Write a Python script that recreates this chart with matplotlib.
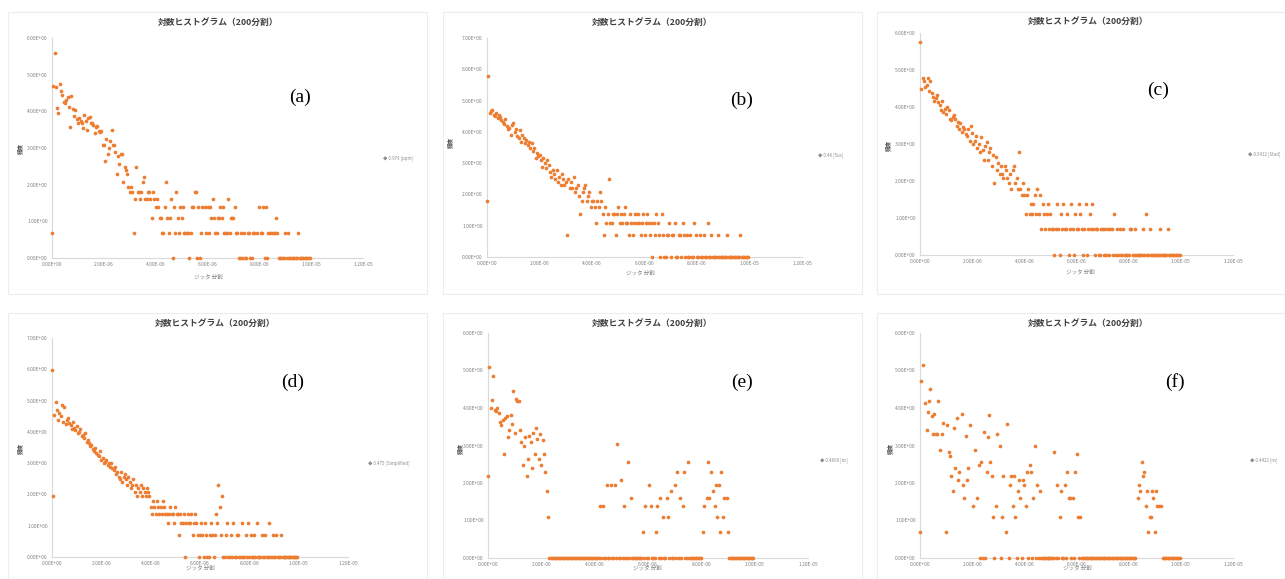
import numpy as np
import matplotlib.pyplot as plt
from matplotlib.patches import Rectangle

plt.rcParams['font.family'] = ['Noto Sans CJK JP', 'DejaVu Sans']

# textos
title = "対数ヒストグラム（200分割）"
xlabel = "ジッタ 分割"
ylabel = "頻度"
panel_names = ["(a)", "(b)", "(c)", "(d)", "(e)", "(f)"]
legend_names = ["0.979 [ppm]", "0.46 [5us]", "0.5412 [Stad]",
                "0.475 [Simplified]", "0.4669 [ns]", "0.4422 [ns]"]
xtick_values = [0, 2e-6, 4e-6, 6e-6, 8e-6, 1e-5, 1.2e-5]
xtick_labels = ["0.00E+00", "2.00E-06", "4.00E-06", "6.00E-06",
                "8.00E-06", "1.00E-05", "1.20E-05"]
ymax = [6, 7, 6, 7, 6, 6]
bin_width = 5e-8

# contagens por classe (200 classes), 0 = classe vazia
counts_a = [
    2, 110, 270, 105, 60, 52, 115, 95, 85, 70, 68, 75, 80, 62, 36, 82, 58, 48, 57, 44,
    40, 45, 42, 40, 35, 50, 42, 33, 45, 47, 40, 40, 38, 30, 36, 37, 32, 31, 32, 22,
    22, 14, 26, 17, 20, 24, 33, 22, 22, 18, 10, 16, 13, 17, 17, 8, 12, 11, 10, 7,
    6, 7, 6, 2, 5, 12, 6, 6, 5, 6, 8, 9, 5, 5, 6, 6, 5, 3, 6, 5,
    4, 5, 4, 3, 3, 2, 2, 4, 8, 3, 2, 3, 5, 1, 4, 2, 6, 3, 2, 4,
    3, 4, 2, 2, 2, 2, 1, 2, 4, 4, 6, 6, 1, 4, 1, 2, 4, 0, 4, 2,
    4, 2, 4, 3, 5, 3, 2, 2, 3, 3, 4, 3, 4, 2, 2, 2, 5, 2, 3, 3,
    3, 4, 2, 2, 1, 1, 2, 1, 2, 1, 1, 2, 2, 1, 1, 2, 2, 0, 2, 0,
    4, 2, 2, 4, 1, 4, 1, 2, 2, 0, 2, 2, 2, 3, 2, 1, 1, 1, 1, 1,
    2, 1, 2, 1, 1, 1, 1, 1, 1, 1, 2, 1, 1, 1, 1, 1, 1, 1, 1, 1,
]
counts_b = [
    6, 330, 100, 105, 110, 95, 92, 100, 85, 95, 88, 80, 75, 70, 82, 66, 60, 62, 50, 68,
    72, 55, 60, 48, 45, 58, 40, 50, 45, 38, 42, 36, 40, 33, 38, 30, 33, 24, 28, 25,
    26, 22, 18, 24, 20, 17, 22, 19, 15, 13, 16, 14, 12, 16, 11, 13, 10, 14, 12, 10,
    11, 2, 12, 9, 11, 9, 13, 8, 9, 10, 7, 4, 6, 8, 9, 10, 6, 7, 8, 5,
    6, 6, 5, 3, 6, 5, 8, 6, 4, 2, 5, 3, 4, 12, 3, 3, 4, 4, 2, 4,
    5, 3, 4, 3, 4, 5, 3, 3, 2, 4, 3, 2, 3, 4, 3, 4, 3, 2, 3, 4,
    2, 3, 4, 3, 2, 3, 1, 3, 2, 4, 3, 2, 1, 4, 2, 1, 1, 2, 2, 3,
    1, 2, 2, 3, 1, 1, 2, 2, 1, 3, 2, 1, 2, 1, 1, 2, 1, 1, 3, 2,
    1, 1, 2, 1, 1, 2, 1, 1, 3, 1, 1, 2, 1, 1, 1, 1, 2, 1, 1, 1,
    1, 1, 1, 2, 1, 1, 1, 1, 1, 1, 1, 1, 1, 2, 1, 1, 1, 1, 1, 1,
]
counts_c = [
    315, 90, 120, 110, 95, 100, 120, 85, 110, 80, 72, 65, 70, 75, 62, 58, 50, 65, 48, 52,
    45, 55, 50, 40, 38, 42, 44, 40, 33, 36, 30, 35, 28, 32, 30, 26, 25, 30, 22, 33,
    27, 20, 22, 25, 18, 20, 16, 24, 17, 13, 19, 21, 13, 16, 18, 11, 15, 7, 14, 10,
    12, 9, 11, 9, 8, 11, 10, 8, 7, 9, 6, 10, 11, 7, 8, 6, 16, 6, 5, 7,
    5, 3, 5, 6, 3, 4, 3, 4, 5, 3, 6, 3, 5, 2, 4, 3, 2, 3, 4, 2,
    3, 2, 2, 1, 2, 4, 2, 1, 3, 2, 4, 2, 2, 3, 1, 2, 4, 2, 1, 3,
    2, 2, 4, 3, 2, 1, 2, 4, 1, 2, 3, 2, 4, 2, 1, 2, 2, 1, 1, 2,
    2, 1, 2, 1, 2, 1, 2, 2, 1, 3, 1, 2, 1, 2, 1, 1, 2, 1, 1, 1,
    1, 2, 2, 1, 1, 2, 1, 1, 1, 1, 1, 2, 1, 3, 1, 1, 2, 1, 1, 1,
    1, 1, 1, 1, 2, 1, 1, 1, 1, 1, 2, 1, 1, 1, 1, 1, 1, 1, 1, 1,
]
counts_d = [
    400, 7, 95, 140, 110, 80, 100, 90, 130, 75, 120, 70, 80, 85, 72, 68, 60, 75, 62, 58,
    65, 52, 55, 60, 48, 50, 45, 52, 40, 42, 38, 35, 36, 32, 30, 33, 28, 26, 25, 30,
    22, 24, 20, 21, 22, 19, 20, 18, 20, 17, 16, 18, 14, 15, 13, 12, 15, 11, 13, 14,
    12, 10, 13, 11, 9, 10, 12, 8, 10, 7, 9, 8, 10, 7, 9, 8, 7, 9, 8, 7,
    5, 4, 6, 5, 4, 6, 5, 4, 5, 4, 6, 5, 4, 4, 3, 4, 5, 4, 4, 3,
    5, 4, 4, 2, 4, 3, 3, 4, 1, 3, 4, 3, 3, 4, 2, 3, 4, 3, 2, 1,
    2, 3, 2, 1, 3, 2, 1, 1, 2, 3, 2, 1, 2, 4, 3, 10, 5, 2, 7, 1,
    1, 2, 3, 1, 1, 2, 1, 3, 1, 1, 2, 2, 1, 1, 3, 1, 1, 2, 1, 3,
    1, 2, 1, 1, 2, 1, 3, 1, 1, 1, 2, 1, 1, 2, 1, 1, 3, 1, 1, 2,
    1, 1, 2, 1, 1, 1, 2, 1, 1, 1, 1, 1, 1, 1, 1, 1, 1, 1, 1, 1,
]
counts_e = [
    9, 165, 55, 67, 128, 52, 50, 55, 48, 38, 35, 40, 16, 42, 44, 25, 30, 45, 36, 85,
    28, 70, 65, 66, 30, 22, 12, 20, 25, 9, 14, 26, 22, 11, 28, 16, 32, 24, 14, 27,
    12, 23, 16, 10, 6, 3, 1, 1, 1, 1, 1, 1, 1, 1, 1, 1, 1, 1, 1, 1,
    1, 1, 1, 1, 1, 1, 1, 1, 1, 1, 1, 1, 1, 1, 1, 1, 1, 1, 1, 1,
    1, 1, 1, 1, 4, 1, 4, 1, 1, 7, 1, 1, 7, 1, 1, 7, 1, 21, 1, 1,
    8, 1, 4, 1, 1, 13, 1, 5, 1, 1, 1, 1, 1, 1, 1, 1, 2, 1, 4, 1,
    1, 7, 4, 1, 1, 1, 2, 4, 1, 5, 1, 3, 1, 1, 5, 3, 1, 6, 1, 1,
    7, 1, 10, 1, 5, 1, 4, 10, 1, 1, 13, 1, 1, 1, 1, 1, 1, 1, 1, 1,
    1, 2, 4, 0, 5, 13, 5, 10, 0, 6, 4, 7, 3, 7, 2, 10, 3, 5, 0, 5,
    2, 1, 1, 1, 1, 1, 1, 1, 1, 1, 1, 1, 1, 1, 1, 1, 1, 1, 1, 1,
]
counts_f = [
    2, 113, 172, 0, 62, 30, 49, 65, 90, 44, 27, 46, 27, 27, 65, 18, 0, 27, 37, 0,
    2, 35, 17, 15, 9, 6, 32, 11, 42, 8, 10, 0, 47, 7, 5, 26, 8, 11, 35, 0,
    0, 4, 18, 0, 5, 12, 1, 13, 1, 29, 1, 10, 25, 45, 13, 9, 3, 1, 4, 27,
    0, 20, 1, 3, 9, 0, 2, 36, 1, 7, 9, 4, 9, 3, 1, 6, 8, 5, 1, 8,
    7, 4, 10, 1, 12, 10, 1, 5, 20, 1, 7, 1, 6, 1, 1, 1, 1, 1, 1, 1,
    1, 1, 1, 17, 1, 7, 1, 3, 6, 1, 1, 7, 1, 10, 5, 5, 1, 5, 1, 10,
    16, 3, 1, 3, 1, 1, 1, 1, 1, 1, 1, 1, 1, 1, 1, 1, 1, 1, 1, 1,
    1, 1, 1, 1, 1, 1, 1, 1, 1, 1, 1, 1, 1, 1, 1, 1, 1, 1, 1, 1,
    1, 1, 1, 1, 1, 1, 0, 5, 7, 6, 13, 9, 10, 4, 6, 2, 3, 3, 6, 5,
    2, 6, 4, 4, 0, 4, 1, 1, 1, 1, 1, 1, 1, 1, 1, 1, 1, 1, 1, 1,
]
all_counts = [counts_a, counts_b, counts_c, counts_d, counts_e, counts_f]

W, H = 1285, 579
fig = plt.figure(figsize=(W / 100, H / 100), dpi=100)

# posições em pixels: (x0, x12, y_topo, y_zero)
boxes = [(52, 363, 38, 258), (487, 802, 38, 257), (920, 1233, 33, 255),
         (52, 348, 338, 557), (488, 808, 333, 558), (920, 1233, 333, 558)]
frames = [(8, 12, 419, 282), (443, 12, 419, 282), (877, 12, 408, 282),
          (8, 313, 419, 266), (443, 313, 419, 266), (877, 313, 408, 266)]
title_pos = [(218, 22), (652, 22), (1088, 21), (215, 323), (652, 323), (1088, 323)]
xlabel_pos = [(208, 277), (640, 273), (1080, 272), (200, 568), (647, 568), (1077, 568)]
ylabel_pos = [(20, 148), (450, 143), (888, 145), (20, 448), (460, 448), (890, 448)]
legend_pos = [(383, 158), (818, 155), (1248, 154), (368, 463), (820, 460), (1250, 460)]
panel_pos = [(300, 97), (742, 100), (1158, 90), (293, 382), (742, 382), (1175, 382)]

for i in range(6):
    fx, fy, fw, fh = frames[i]
    fig.add_artist(Rectangle((fx / W, 1 - (fy + fh) / H), fw / W, fh / H,
                             transform=fig.transFigure, fill=False,
                             edgecolor='#ededed', linewidth=0.8))

    x0, x12, yt, yb = boxes[i]
    ax = fig.add_axes([x0 / W, 1 - yb / H, (x12 - x0) / W, (yb - yt) / H])
    c = np.array(all_counts[i], dtype=float)
    xs = np.arange(len(c)) * bin_width
    mask = c > 0
    ax.scatter(xs[mask], np.log(c[mask]), s=7, color='#ED7D31', linewidths=0,
               clip_on=False, zorder=3)

    ax.set_xlim(0, 1.2e-5)
    ax.set_ylim(0, ymax[i])
    ax.set_xticks(xtick_values)
    ax.set_xticklabels(xtick_labels)
    ax.set_yticks(range(ymax[i] + 1))
    ax.set_yticklabels([f"{v:.2f}E+00" for v in range(ymax[i] + 1)])
    ax.tick_params(length=0, labelsize=3.5, labelcolor='#7f7f7f', pad=3)
    for s in ['top', 'right']:
        ax.spines[s].set_visible(False)
    for s in ['left', 'bottom']:
        ax.spines[s].set_color('#d9d9d9')
        ax.spines[s].set_linewidth(0.8)
    ax.patch.set_alpha(0)

    tx, ty = title_pos[i]
    fig.text(tx / W, 1 - ty / H, title, ha='center', va='center',
             fontsize=6.3, fontweight='bold', color='#404040')
    lx, ly = xlabel_pos[i]
    fig.text(lx / W, 1 - ly / H, xlabel, ha='center', va='center',
             fontsize=4, color='#7f7f7f')
    yx, yy = ylabel_pos[i]
    fig.text(yx / W, 1 - yy / H, ylabel, ha='center', va='center',
             fontsize=4, fontweight='bold', color='#595959', rotation=90)
    gx, gy = legend_pos[i]
    fig.text(gx / W, 1 - gy / H, "\u25c6 " + legend_names[i], ha='left',
             va='center', fontsize=3.2, color='#8c8c8c')
    px, py = panel_pos[i]
    fig.text(px / W, 1 - py / H, panel_names[i], ha='center', va='center',
             fontsize=14, family='Liberation Serif', color='black')

fig.savefig("out.png", dpi=100)
